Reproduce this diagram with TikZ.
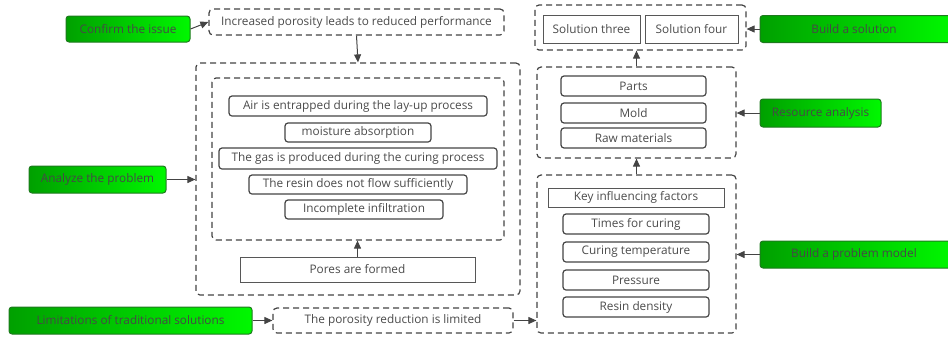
\documentclass[tikz,border=0pt]{standalone}
\usepackage{fontspec}
\setmainfont{Open Sans}
\usetikzlibrary{arrows.meta}
\definecolor{ln}{HTML}{444444}
\definecolor{tx}{HTML}{4A4A4A}
\definecolor{gdark}{HTML}{00A000}
\definecolor{glight}{HTML}{00F800}
\definecolor{gborder}{HTML}{1E7A1E}
\tikzset{
  every node/.style={font=\fontsize{11.8}{14}\selectfont, text=tx, inner sep=0pt},
  green/.style={draw=gborder, line width=1pt, rounded corners=3pt, left color=gdark, right color=glight, text=black!72},
  dbox/.style={draw=ln, line width=1.2pt, dash pattern=on 6pt off 4pt, rounded corners=4pt},
  rbox/.style={draw=ln, line width=1.2pt, rounded corners=3pt},
  sbox/.style={draw=ln!90, line width=0.85pt},
  arr/.style={draw=ln, line width=1pt, -{Triangle[length=8pt,width=7pt]}},
}
\begin{document}
\begin{tikzpicture}[x=1pt,y=-1pt]
\useasboundingbox (0,0) rectangle (948,338);
\clip (0,0) rectangle (948,338);
% green nodes
\node[green, minimum width=124pt, minimum height=26pt] (confirm) at (128,29) {Confirm the issue};
\node[green, minimum width=137pt, minimum height=27pt] (analyze) at (97.5,179.5) {Analyze the problem};
\node[green, minimum width=243pt, minimum height=27pt] (limits) at (130.5,320.5) {Limitations of traditional solutions};
\node[green, minimum width=194pt, minimum height=27pt] (buildsol) at (857,29) {\hspace*{-6pt}Build a solution};
\node[green, minimum width=121pt, minimum height=28pt] (resource) at (820.5,113) {Resource analysis};
\node[green, minimum width=194pt, minimum height=27pt] (buildmodel) at (857,254.5) {\hspace*{-6pt}Build a problem model};
% dashed containers
\node[dbox, minimum width=295pt, minimum height=26pt] (increased) at (356.5,22) {Increased porosity leads to reduced performance};
\node[dbox, minimum width=324pt, minimum height=232pt] (big) at (358,179) {};
\node[dbox, minimum width=292pt, minimum height=162pt] (inner) at (358,159) {};
\node[dbox, minimum width=240pt, minimum height=25pt] (porosity) at (393,320.5) {The porosity reduction is limited};
\node[dbox, minimum width=211pt, minimum height=45pt] (solbox) at (640.5,27.5) {};
\node[dbox, minimum width=199pt, minimum height=91pt] (resbox) at (636.5,112.5) {};
\node[dbox, minimum width=199pt, minimum height=158pt] (modbox) at (636.5,254) {};
% analysis items
\node[rbox, minimum width=258pt, minimum height=20pt] (air) at (358,106) {Air is entrapped during the lay-up process};
\node[rbox, minimum width=146pt, minimum height=19pt] (moist) at (358,132.5) {moisture absorption};
\node[rbox, minimum width=278pt, minimum height=21pt] (gas) at (358,158.5) {The gas is produced during the curing process};
\node[rbox, minimum width=218pt, minimum height=19pt] (resin) at (358,184.5) {The resin does not flow sufficiently};
\node[rbox, minimum width=158pt, minimum height=19pt] (incomplete) at (364,209.5) {Incomplete infiltration};
\node[sbox, minimum width=235pt, minimum height=25pt] (pores) at (357.5,269.5) {Pores are formed};
% solutions
\node[sbox, minimum width=97pt, minimum height=28pt] (sol3) at (591.5,29) {Solution three};
\node[sbox, minimum width=93pt, minimum height=28pt] (sol4) at (691.5,29) {Solution four};
% resources
\node[rbox, minimum width=145pt, minimum height=20pt] (parts) at (633.5,86) {Parts};
\node[rbox, minimum width=145pt, minimum height=20pt] (mold) at (633.5,113) {Mold};
\node[rbox, minimum width=145pt, minimum height=20pt] (raw) at (633.5,138) {Raw materials};
% model
\node[sbox, minimum width=176pt, minimum height=19pt] (key) at (636,197.5) {Key influencing factors};
\node[rbox, minimum width=146pt, minimum height=20pt] (times) at (636,224) {Times for curing};
\node[rbox, minimum width=146pt, minimum height=20pt] (curtemp) at (636,252) {Curing temperature};
\node[rbox, minimum width=146pt, minimum height=20pt] (pressure) at (636,280) {Pressure};
\node[rbox, minimum width=146pt, minimum height=20pt] (density) at (636,307) {Resin density};
% arrows
\draw[arr] (confirm.east) -- (increased.west);
\draw[arr] (increased.south) -- (big.north);
\draw[arr] (analyze.east) -- (analyze.east -| big.west);
\draw[arr] (pores.north) -- (pores.north |- inner.south);
\draw[arr] (limits.east) -- (limits.east -| porosity.west);
\draw[arr] (porosity.east) -- (porosity.east -| modbox.west);
\draw[arr] (modbox.north) -- (resbox.south);
\draw[arr] (resbox.north) -- (resbox.north |- solbox.south);
\draw[arr] (buildsol.west) -- (buildsol.west -| solbox.east);
\draw[arr] (resource.west) -- (resource.west -| resbox.east);
\draw[arr] (buildmodel.west) -- (buildmodel.west -| modbox.east);
\end{tikzpicture}
\end{document}
